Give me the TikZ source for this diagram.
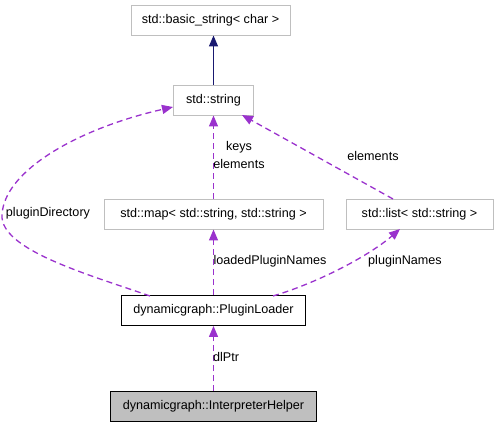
\documentclass[tikz,border=0pt]{standalone}
\usepackage{fontspec}
\setmainfont{Liberation Sans}
\usetikzlibrary{arrows.meta}
\definecolor{edgep}{HTML}{9A32CD}
\definecolor{edgeb}{HTML}{191970}
\definecolor{boxg}{HTML}{BFBFBF}
\begin{document}
\begin{tikzpicture}[x=1pt,y=-1pt,
  font=\fontsize{12.6}{14}\selectfont,
  cls/.style={draw=boxg,fill=white,minimum height=30pt,inner xsep=6pt,line width=0.9pt},
  mine/.style={draw=black,fill=white,minimum height=30pt,inner xsep=6pt,line width=0.9pt},
  cur/.style={draw=black,fill=boxg,minimum height=30pt,inner xsep=6pt,line width=0.9pt},
  usage/.style={draw=edgep,dashed,dash pattern=on 6pt off 4pt,line width=1.3pt,-{Triangle[length=11pt,width=9pt]}},
  inherit/.style={draw=edgeb,line width=1.3pt,-{Triangle[length=11pt,width=9pt]}},
  lbl/.style={inner sep=0pt}]
\useasboundingbox (0,0) rectangle (499,427);
\node[cls,minimum width=159pt] (bs) at (210.5,20) {std::basic\_string< char >};
\node[cls,minimum width=80pt] (str) at (213.5,100) {std::string};
\node[cls,minimum width=219pt] (map) at (213.5,214) {std::map< std::string, std::string >};
\node[cls,minimum width=147pt] (lst) at (419.5,214) {std::list< std::string >};
\node[mine,minimum width=184pt] (pl) at (213.5,310.5) {dynamicgraph::PluginLoader};
\node[cur,minimum width=206pt] (ih) at (213.5,406.5) {dynamicgraph::InterpreterHelper};
\coordinate (plL) at (150,296);
\coordinate (plR) at (273,296);
\coordinate (strL) at (173,107);
\coordinate (strR) at (242,115);
\coordinate (lstT) at (393,199);
\coordinate (lstB) at (400,229);
\draw[inherit] (str.north) -- (str.north |- bs.south);
\draw[usage] (map.north) -- (str.south);
\draw[usage] (lstT) -- (strR);
\draw[usage] (pl.north) -- (map.south);
\draw[usage] (plR) .. controls (320,282) and (370,255) .. (lstB);
\draw[usage] (plL) .. controls (90,275) and (0,250) .. (2,215) .. controls (4,170) and (80,128) .. (strL);
\draw[usage] (ih.north) -- (pl.south);
\node[lbl] (l1) at (48,213) {pluginDirectory};
\node[lbl] (l2) at (239,147) {keys};
\node[lbl] (l3) at (239,164) {elements};
\node[lbl] (l4) at (373,156) {elements};
\node[lbl] (l5) at (270,261) {loadedPluginNames};
\node[lbl] (l6) at (405,261) {pluginNames};
\node[lbl] (l7) at (226,357) {dlPtr};
\end{tikzpicture}
\end{document}
